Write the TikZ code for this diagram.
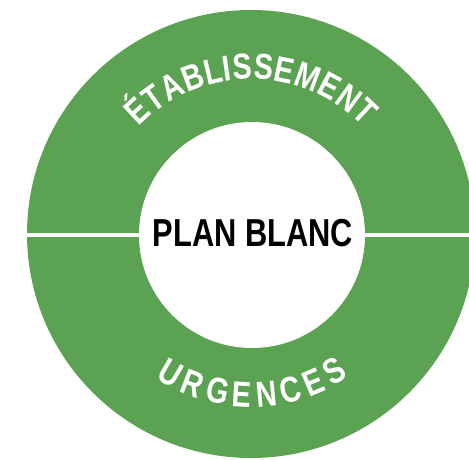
\documentclass[tikz,border=0pt]{standalone}
\usepackage{fontspec}
\setmainfont{Liberation Sans}
\newfontfamily\narrowfont[FakeStretch=0.79]{Liberation Sans}
\newfontfamily\arcfamily[FakeStretch=0.8]{Liberation Sans}
\definecolor{ringgreen}{RGB}{91,163,83}
% #1 letter/advance-units list, #2 radius, #3 mid angle, #4 direction (-1 clockwise, 1 anticlockwise),
% #5 extra spacing (pt), #6 node name prefix, #7 pt per 1000 units
\newcommand\arcletters[7]{%
  \xdef\arctot{0}%
  \foreach \ch/\wu in {#1}{%
    \pgfmathparse{\arctot+\wu/1000*#7+#5}\xdef\arctot{\pgfmathresult}}%
  \pgfmathsetmacro\arcspan{(\arctot-#5)/#2*180/pi}%
  \xdef\arcpos{0}%
  \foreach \ch/\wu [count=\n] in {#1}{%
    \pgfmathsetmacro\chw{\wu/1000*#7}%
    \pgfmathsetmacro\ang{#3-#4*\arcspan/2+#4*(\arcpos+\chw/2)/#2*180/pi}%
    \pgfmathsetmacro\rot{\ang+#4*90}%
    \node[arcletter, rotate=\rot] (#6\n) at ([shift={(\ang:#2)}]ctr) {\ch};
    \pgfmathparse{\arcpos+\chw+#5}\xdef\arcpos{\pgfmathresult}}%
}
\tikzset{
  arcletter/.style={inner sep=0pt, text=white, anchor=base, font=\arcfamily\bfseries\fontsize{36}{36}\selectfont},
  ring/.style={fill=ringgreen, even odd rule},
  divider/.style={draw=white, line width=3.5pt},
  hub/.style={circle, fill=white, inner sep=0pt, minimum size=226pt},
  title/.style={font=\narrowfont\bfseries\fontsize{39}{39}\selectfont, text=black, inner sep=0pt}
}
\begin{document}
\begin{tikzpicture}[x=1pt,y=1pt]
\useasboundingbox (0,0) rectangle (469,459);
\clip (0,0) rectangle (469,459);
\coordinate (ctr) at (251,225);
\fill[ring] (ctr) circle[radius=224];
\coordinate (lineL) at (20,224);
\coordinate (lineR) at (480,224);
\draw[divider] (lineL) -- (lineR);
\node[hub] (hub) at (252,224) {};
\node[title, anchor=base] (plan) at (253,213) {PLAN BLANC};
\arcletters{É/667,T/611,A/722,B/722,L/611,I/278,S/667,S/667,E/667,M/833,E/667,N/722,T/611}{155}{90}{-1}{0.6}{t}{28.8}
\arcletters{U/722,R/722,G/778,E/667,N/722,C/722,E/667,S/667}{173}{270.5}{1}{6}{b}{28.8}
\end{tikzpicture}
\end{document}
